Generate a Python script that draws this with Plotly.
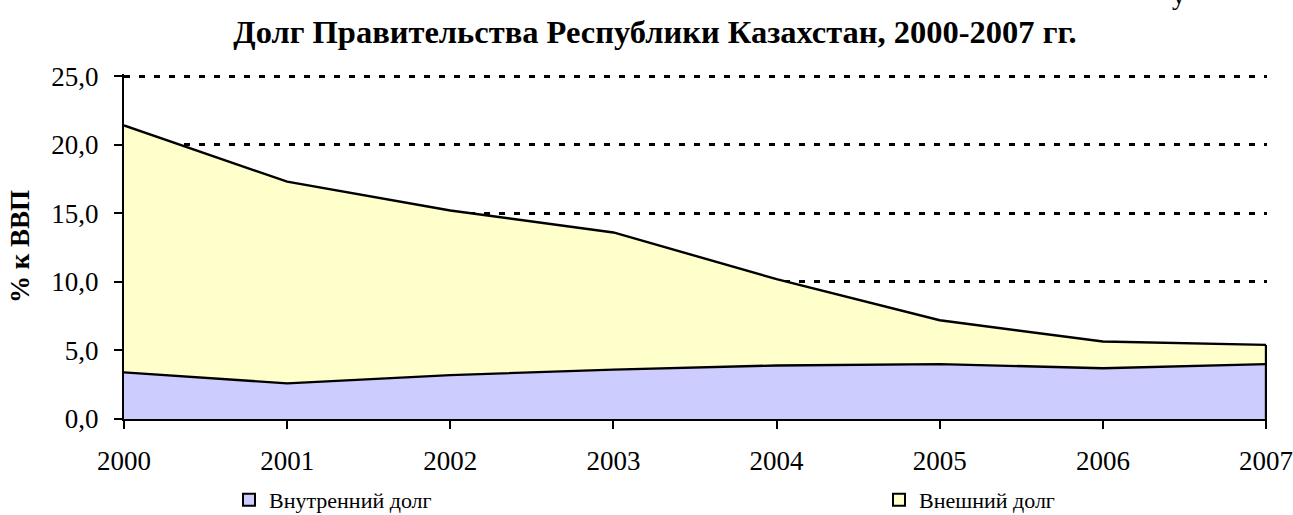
import plotly.graph_objects as go

years = [2000, 2001, 2002, 2003, 2004, 2005, 2006, 2007]
internal_debt = [3.4, 2.6, 3.2, 3.6, 3.9, 4.0, 3.7, 4.0]
external_debt = [18.0, 14.7, 12.0, 10.0, 6.3, 3.2, 1.95, 1.4]
y_ticks = [0, 5, 10, 15, 20, 25]

title_text = "Долг Правительства Республики Казахстан, 2000-2007 гг."
y_title = "% к ВВП"
name_internal = "Внутренний долг"
name_external = "Внешний долг"

BLUE = "#CCCCFF"
YELLOW = "#FFFFCC"
FONT = "Liberation Serif"

fig = go.Figure()
fig.add_trace(go.Scatter(
    x=years, y=internal_debt, stackgroup="one", mode="lines",
    line=dict(color="black", width=2.4), fillcolor=BLUE,
    name=name_internal, showlegend=False, hoverinfo="skip"))
fig.add_trace(go.Scatter(
    x=years, y=external_debt, stackgroup="one", mode="lines",
    line=dict(color="black", width=2.4), fillcolor=YELLOW,
    name=name_external, showlegend=False, hoverinfo="skip"))

# closing edge of the area at the last year
total_last = internal_debt[-1] + external_debt[-1]
fig.add_trace(go.Scatter(
    x=[years[-1], years[-1]], y=[0, total_last], mode="lines",
    line=dict(color="black", width=2.4), showlegend=False, hoverinfo="skip"))

# legend entries
fig.add_trace(go.Scatter(
    x=[None], y=[None], mode="markers", name=name_internal,
    marker=dict(symbol="square", size=12, color=BLUE,
                line=dict(color="black", width=2)),
    legend="legend"))
fig.add_trace(go.Scatter(
    x=[None], y=[None], mode="markers", name=name_external,
    marker=dict(symbol="square", size=12, color=YELLOW,
                line=dict(color="black", width=2)),
    legend="legend2"))

W, H = 1293, 515
L, R, T, B = 124, 26, 74, 96
pw = W - L - R
ph = H - T - B

def px_to_paper_x(px):
    return (px - L) / pw

def px_to_paper_y(py):
    return (H - B - py) / ph

LEG_Y = px_to_paper_y(500)

fig.update_layout(
    width=W, height=H,
    margin=dict(l=L, r=R, t=T, b=B, autoexpand=False),
    paper_bgcolor="white", plot_bgcolor="white",
    separators=", ",
    font=dict(family=FONT, size=27, color="black"),
    title=dict(text="<b>" + title_text + "</b>", x=655 / W, xanchor="center",
               y=1 - 32 / H, yanchor="middle", yref="container",
               font=dict(family=FONT, size=32.5, color="black")),
    legend=dict(orientation="h", x=px_to_paper_x(229), xanchor="left",
                y=LEG_Y, yanchor="middle",
                font=dict(family=FONT, size=22), bgcolor="rgba(0,0,0,0)",
                itemwidth=30, tracegroupgap=0),
    legend2=dict(orientation="h", x=px_to_paper_x(879), xanchor="left",
                 y=LEG_Y, yanchor="middle",
                 font=dict(family=FONT, size=22), bgcolor="rgba(0,0,0,0)",
                 itemwidth=30, tracegroupgap=0),
    showlegend=True,
)

fig.update_xaxes(
    range=[years[0], years[-1] + 0.006], tickvals=years, ticktext=[str(y) for y in years],
    showgrid=False, zeroline=False, automargin=False,
    showline=True, linecolor="black", linewidth=2.2,
    ticks="outside", ticklen=8, tickwidth=2, tickcolor="black",
    tickfont=dict(family=FONT, size=27), ticklabelstandoff=8,
    ticklabeloverflow="allow",
)
fig.update_yaxes(
    range=[0, 25.15], tickvals=y_ticks, tickformat=".1f",
    showgrid=True, gridcolor="black", gridwidth=2.6, griddash="6px,9px",
    zeroline=False, automargin=False,
    showline=True, linecolor="black", linewidth=2.2,
    ticks="outside", ticklen=8, tickwidth=2, tickcolor="black",
    tickfont=dict(family=FONT, size=27), ticklabelstandoff=10,
    ticklabeloverflow="allow",
    title=dict(text="<b>" + y_title + "</b>", font=dict(family=FONT, size=27), standoff=14),
)

# cut-off character at the very top (remnant of text above the chart)
fig.add_annotation(text="у", xref="paper", yref="paper",
                   x=px_to_paper_x(1179), y=1 + T / ph, xanchor="center",
                   yanchor="bottom", yshift=-12, showarrow=False,
                   font=dict(family=FONT, size=27, color="black"))

fig.write_html("out.html",
               config={"displayModeBar": False},
               post_script="document.body.style.margin='0';document.body.style.padding='0';")
